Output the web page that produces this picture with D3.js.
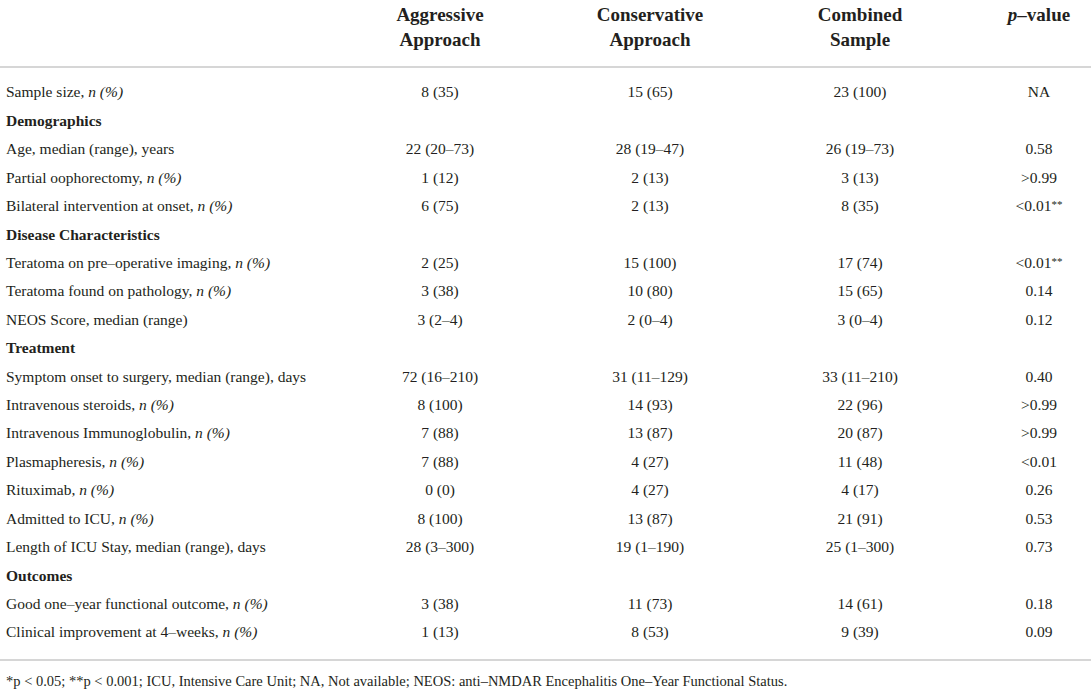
<!DOCTYPE html>
<html>
<head>
<meta charset="utf-8">
<script src="https://cdn.jsdelivr.net/npm/d3@7"></script>
<style>
  body { margin: 0; background: #fff; }
  svg text { font-family: "Liberation Serif", "Times New Roman", serif; fill: #231f20; }
  .head { font-weight: bold; font-size: 19px; }
  .section { font-weight: bold; }
  .cell { font-size: 15.5px; }
  .note { font-size: 14.5px; }
</style>
</head>
<body>
<div id="chart"></div>
<script>
'use strict';

const headers = [['Aggressive', 'Approach'], ['Conservative', 'Approach'], ['Combined', 'Sample'], ['p-value']];

// section rows have no values (null)
const rowLabels = [
    'Sample size, n (%)',
    'Demographics',
    'Age, median (range), years',
    'Partial oophorectomy, n (%)',
    'Bilateral intervention at onset, n (%)',
    'Disease Characteristics',
    'Teratoma on pre\u2013operative imaging, n (%)',
    'Teratoma found on pathology, n (%)',
    'NEOS Score, median (range)',
    'Treatment',
    'Symptom onset to surgery, median (range), days',
    'Intravenous steroids, n (%)',
    'Intravenous Immunoglobulin, n (%)',
    'Plasmapheresis, n (%)',
    'Rituximab, n (%)',
    'Admitted to ICU, n (%)',
    'Length of ICU Stay, median (range), days',
    'Outcomes',
    'Good one\u2013year functional outcome, n (%)',
    'Clinical improvement at 4\u2013weeks, n (%)'
];

const aggressive = ['8 (35)', null, '22 (20\u201373)', '1 (12)', '6 (75)', null, '2 (25)', '3 (38)', '3 (2\u20134)', null,
    '72 (16\u2013210)', '8 (100)', '7 (88)', '7 (88)', '0 (0)', '8 (100)', '28 (3\u2013300)', null, '3 (38)', '1 (13)'];
const conservative = ['15 (65)', null, '28 (19\u201347)', '2 (13)', '2 (13)', null, '15 (100)', '10 (80)', '2 (0\u20134)', null,
    '31 (11\u2013129)', '14 (93)', '13 (87)', '4 (27)', '4 (27)', '13 (87)', '19 (1\u2013190)', null, '11 (73)', '8 (53)'];
const combined = ['23 (100)', null, '26 (19\u201373)', '3 (13)', '8 (35)', null, '17 (74)', '15 (65)', '3 (0\u20134)', null,
    '33 (11\u2013210)', '22 (96)', '20 (87)', '11 (48)', '4 (17)', '21 (91)', '25 (1\u2013300)', null, '14 (61)', '9 (39)'];
const pValues = ['NA', null, '0.58', '>0.99', '<0.01**', null, '<0.01**', '0.14', '0.12', null,
    '0.40', '>0.99', '>0.99', '<0.01', '0.26', '0.53', '0.73', null, '0.18', '0.09'];

const footnote = '*p < 0.05; **p < 0.001; ICU, Intensive Care Unit; NA, Not available; NEOS: anti\u2013NMDAR Encephalitis One\u2013Year Functional Status.';

const width = 1091, height = 690;
const columns = [aggressive, conservative, combined, pValues];

const svg = d3.select('#chart').append('svg')
    .attr('width', width)
    .attr('height', height);

let x = d3.scaleOrdinal().domain(d3.range(columns.length)).range([440, 650, 860, 1039]);
let y = d3.scalePoint().domain(d3.range(rowLabels.length)).range([92, 632]);

// header
let head = svg.selectAll('.head').data(headers)
    .enter().append('text')
    .attr('class', 'head')
    .attr('text-anchor', 'middle')
    .attr('x', (d, i) => x(i));
head.selectAll('tspan').data(d => d)
    .enter().append('tspan')
    .attr('x', function() { return d3.select(this.parentNode).attr('x'); })
    .attr('y', (d, i) => 21 + i * 25)
    .each(function(d) {
        let t = d3.select(this);
        if (d === 'p-value') {
            t.append('tspan').style('font-style', 'italic').text('p');
            t.append('tspan').text('\u2013value');
        } else {
            t.text(d);
        }
    });

// rules
svg.selectAll('.rule').data([67, 660])
    .enter().append('line')
    .attr('class', 'rule')
    .attr('x1', 0).attr('x2', width)
    .attr('y1', d => d).attr('y2', d => d)
    .attr('stroke', '#c8c8c8')
    .attr('stroke-width', 1.5);

// row labels
let labels = svg.selectAll('.label').data(rowLabels)
    .enter().append('text')
    .attr('class', (d, i) => aggressive[i] === null ? 'label cell section' : 'label cell')
    .attr('x', 6)
    .attr('y', (d, i) => y(i))
    .attr('dy', '0.35em');
labels.each(function(d) {
    let t = d3.select(this);
    let k = d.lastIndexOf('n (%)');
    if (k >= 0) {
        t.append('tspan').text(d.slice(0, k));
        t.append('tspan').style('font-style', 'italic').text('n (%)');
    } else {
        t.text(d);
    }
});

// values (keep the row index, skip section rows)
columns.forEach((col, c) => {
    let cells = col.map((v, i) => ({ v, i })).filter(d => d.v !== null);
    svg.selectAll('.col' + c).data(cells)
        .enter().append('text')
        .attr('class', 'cell col' + c)
        .attr('text-anchor', 'middle')
        .attr('x', x(c))
        .attr('y', d => y(d.i))
        .attr('dy', '0.35em')
        .each(function(d) {
            let t = d3.select(this);
            let m = d.v.match(/^(.*?)(\*+)$/);
            if (m) {
                // significance stars set small and raised
                t.append('tspan').text(m[1]);
                t.append('tspan').attr('font-size', '11px').attr('dy', '-0.3em').text(m[2]);
            } else {
                t.text(d.v);
            }
        });
});

svg.append('text')
    .attr('class', 'note')
    .attr('x', 6)
    .attr('y', 681)
    .attr('dy', '0.35em')
    .text(footnote);
</script>
</body>
</html>
